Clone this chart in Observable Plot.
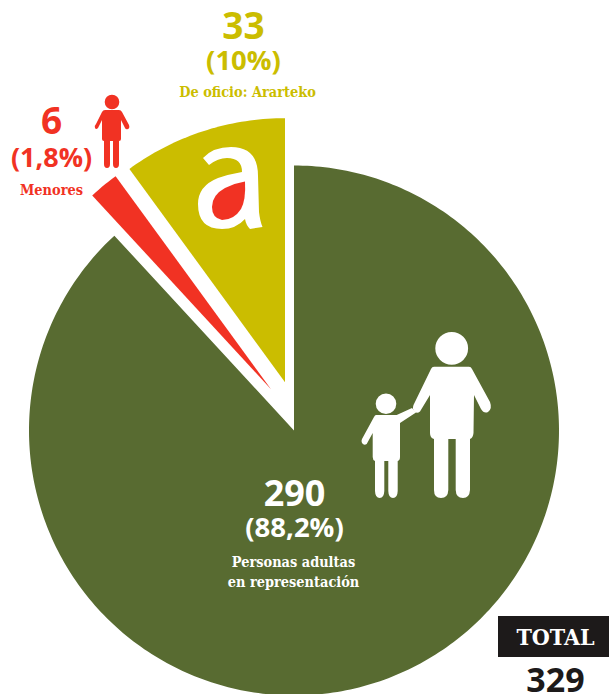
<!DOCTYPE html>
<html><head><meta charset="utf-8">
<script src="https://cdn.jsdelivr.net/npm/d3@7"></script>
<script src="https://cdn.jsdelivr.net/npm/@observablehq/plot@0.6"></script>
<style>html,body{margin:0;padding:0;background:#fff;overflow:hidden}svg{display:block}</style>
</head><body><div id="chart"></div>
<script>
const categories = ["Personas adultas", "Menores", "De oficio: Ararteko"];
const values = [290, 6, 33];
const colors = ["#586b31", "#f13223", "#cbbd00"];
const centersX = [293.5, 270.7, 284.5];
const centersY = [430, 389, 381.7];
const radii = [265, 264, 264];

const W = 609, H = 694;
const pie = d3.pie().sort(null)(values);
const points = pie.flatMap((s, i) => {
  const steps = Math.max(4, Math.ceil((s.endAngle - s.startAngle) * 60));
  const arc = d3.range(steps + 1).map(k => {
    const a = s.startAngle + (s.endAngle - s.startAngle) * k / steps;
    return {cat: categories[i], x: centersX[i] + radii[i] * Math.sin(a), y: centersY[i] - radii[i] * Math.cos(a)};
  });
  const apex = {cat: categories[i], x: centersX[i], y: centersY[i]};
  return [apex, ...arc, apex];
});

const NUM = "'Open Sans', sans-serif", SER = "'DejaVu Serif Condensed','DejaVu Serif',serif";
const labels = [
 {t:"33", x:243, y:27, s:37, c:colors[2], f:NUM, w:700},
 {t:"(10%)", x:243, y:61, s:27.5, c:colors[2], f:NUM, w:700},
 {t:"De oficio: Ararteko", x:247, y:92, s:14.4, c:colors[2], f:SER, w:700},
 {t:"6", x:51, y:122, s:37, c:colors[1], f:NUM, w:700},
 {t:"(1,8%)", x:51, y:158, s:27, c:colors[1], f:NUM, w:700},
 {t:"Menores", x:51, y:190, s:14.4, c:colors[1], f:SER, w:700},
 {t:"290", x:294, y:494, s:36, c:"#fff", f:NUM, w:700},
 {t:"(88,2%)", x:294, y:528, s:27.5, c:"#fff", f:NUM, w:700},
 {t:"Personas adultas", x:293, y:562, s:14.4, c:"#fff", f:SER, w:700},
 {t:"en representación", x:293, y:582, s:14.4, c:"#fff", f:SER, w:700},
 {t:"TOTAL", x:555, y:637, s:23, c:"#fff", f:SER, w:700},
 {t:"329", x:555, y:681, s:34, c:"#1d1a1a", f:NUM, w:700}
];

const shape = (d, fill) => () => {
  const p = document.createElementNS("http://www.w3.org/2000/svg", "path");
  p.setAttribute("d", d); p.setAttribute("fill", fill); return p;
};
const circle = (cx, cy, r) => `M${cx-r},${cy}a${r},${r} 0 1,0 ${2*r},0a${r},${r} 0 1,0 ${-2*r},0Z`;
const adult = circle(451.7,348.3,16.4) +
 "M434,366.7L469,366.7Q471,366.7 472,369L490,402Q492.5,409 488,412Q484,414 481,409L474,395L473.5,433Q473,438 470,439L470,490Q469.5,498 463,498Q456,498 455.7,490L455.7,439L448.3,439L448.3,490Q448,498 441,498Q434,498 434,490L434,439Q430,438 430,433L430,395L420,411.5Q417,414 414.5,411.5Q412,409 413.5,405L431,369Q432,366.7 434,366.7Z";
const kid = circle(386,403.7,10.3) +
 "M376,415L396.7,415L412,408L416,412.5L400,423L400,457Q400,460.5 397.7,461L397.7,491Q397.5,498 393,498Q388.5,498 388.3,491L388.3,461L384.3,461L384.3,491Q384,498 379.7,498Q375.3,498 375,491L375,461Q372.7,460 372.7,457L372.7,433L366.7,444Q364,446 362,443Q361,441 362,439L374,417Q375,415 376,415Z";
const child = circle(112,102,7.3) +
 "M105,110L119,110Q121,110 122,112L129,125Q130,128 128,129Q126,130 125,128L121,120L121,139Q121,141 119,141L119,164Q119,168 116,168Q113,168 113,164L113,141L110,141L110,164Q110,168 107,168Q104,168 104,164L104,141Q102,141 102,139L102,120L98,128Q96,130 95,128Q94,126 96,124L102,112Q103,110 105,110Z";
const logoA = "M203,158Q213,147 231,147Q258,147 258,176L259,212Q260,221 262.5,227L250,229Q246,225 245,219Q236,229 222,229Q198,229 198,204Q198,186 218,178Q230,174 242,172Q242,158 227,158Q218,158 209,165Z";
const logoDrop = "M245,181.5Q246,200 241,209Q234,220 222,220Q212,218 212,207Q212,195 225,188Q235,183 245,181.5Z";

const plot = Plot.plot({
  width: W, height: H, margin: 0, style: {background: "#fff"},
  x: {domain: [0, W], range: [0, W], axis: null},
  y: {domain: [0, H], range: [0, H], axis: null},
  marks: [
    Plot.line(points, {x: "x", y: "y", z: "cat", fill: d => colors[categories.indexOf(d.cat)], stroke: "none", curve: "linear"}),
    shape(adult, "#fff"),
    shape(kid, "#fff"),
    shape(child, colors[1]),
    shape(logoA, "#fff"),
    shape(logoDrop, colors[1]),
    Plot.rect([{x1: 498, x2: 609, y1: 616, y2: 657}], {x1: "x1", x2: "x2", y1: "y1", y2: "y2", fill: "#1d1a1a"}),
    ...labels.map(l => Plot.text([l], {x: "x", y: "y", text: "t", fill: l.c, fontSize: l.s, fontFamily: l.f, fontWeight: l.w, textAnchor: "middle", lineAnchor: "middle"}))
  ]
});
document.getElementById("chart").append(plot);
</script></body></html>
